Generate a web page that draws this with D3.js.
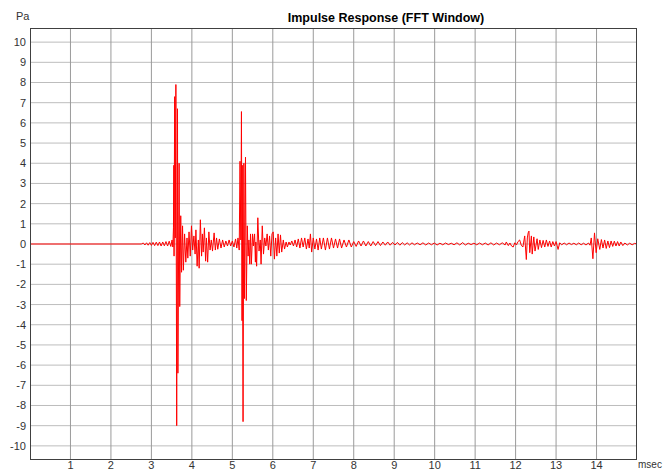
<!DOCTYPE html>
<html>
<head>
<meta charset="utf-8">
<script src="https://cdn.jsdelivr.net/npm/d3@7"></script>
<style>
    body { margin: 0; background: #fff; }
    svg { display: block; font-family: Arial, "Liberation Sans", sans-serif; }
    .ticklabel { font-size: 11px; fill: #333; }
    .title { font-size: 12.5px; font-weight: bold; fill: #000; }
</style>
</head>
<body>
<div id="chart"></div>
<script>
// tick labels
var msTicks = [1, 2, 3, 4, 5, 6, 7, 8, 9, 10, 11, 12, 13, 14];
var paTicks = [10, 9, 8, 7, 6, 5, 4, 3, 2, 1, 0, -1, -2, -3, -4, -5, -6, -7, -8, -9, -10];

// impulse response as [msec, Pa] turning points
var preRoll = [
    [0, 0], [2.75, 0], [2.8, 0.05], [2.84, -0.05], [2.88, 0.06], [2.92, -0.06], [2.96, 0.07],
    [3.0, -0.07], [3.04, 0.08], [3.08, -0.08], [3.12, 0.09], [3.16, -0.08], [3.2, 0.1],
    [3.24, -0.1], [3.28, 0.1], [3.32, -0.09], [3.36, 0.12], [3.4, -0.1], [3.44, 0.14],
    [3.48, -0.12], [3.51, 0.2], [3.53, -0.15]
];

var burst1 = [
    [3.545, 0.8], [3.555, 3.9], [3.56, -0.6], [3.575, 7.3], [3.59, 0.3], [3.605, 7.9],
    [3.625, -9.0], [3.645, 6.7], [3.655, -6.4], [3.685, 4.0], [3.70, -3.1], [3.725, 1.4],
    [3.745, -1.4], [3.77, 0.9], [3.79, -1.3], [3.82, 0.5], [3.85, -0.9], [3.88, 0.3],
    [3.90, -0.7], [3.93, 0.6], [3.96, -0.6], [3.99, 0.9], [4.02, -0.3], [4.05, 0.4],
    [4.08, -0.5], [4.10, 0.7], [4.13, -1.1], [4.16, 0.2], [4.18, -1.2], [4.21, 1.2],
    [4.24, -0.6], [4.26, 0.5], [4.28, -0.4], [4.31, 0.8], [4.34, -0.85], [4.36, 0.3],
    [4.39, -0.9], [4.42, 0.6], [4.45, -0.3], [4.48, 0.2], [4.51, -0.35], [4.55, 0.55],
    [4.58, -0.3], [4.61, 0.3], [4.64, -0.26], [4.68, 0.25], [4.72, -0.2], [4.76, 0.2],
    [4.80, -0.15], [4.84, 0.15], [4.88, -0.1], [4.92, 0.2], [4.96, -0.1], [5.00, 0.15],
    [5.04, -0.15], [5.08, 0.25], [5.11, -0.2], [5.14, 0.3], [5.17, -0.3]
];

var burst2 = [
    [5.19, 4.1], [5.21, 0.2], [5.225, 6.56], [5.24, -3.8], [5.245, 3.9], [5.265, -8.8],
    [5.285, 4.0], [5.30, -2.7], [5.325, 4.3], [5.345, -2.8], [5.37, 0.9], [5.39, -0.6],
    [5.41, 0.2], [5.43, -1.0], [5.45, 0.5], [5.47, -1.0], [5.50, 0.5], [5.52, -0.1],
    [5.55, 0.5], [5.57, -0.9], [5.58, 0.1], [5.60, -1.1], [5.63, 1.3], [5.66, -0.35],
    [5.69, 0.2], [5.71, -1.0], [5.74, 0.9], [5.77, -0.5], [5.80, 0.3], [5.83, -0.1],
    [5.86, 0.5], [5.89, -0.3], [5.92, 0.4], [5.95, -0.6], [5.98, 0.5]
];

var decay = [
    [6.01, 0.6], [6.04, -0.75], [6.07, 0.3], [6.10, -0.6], [6.13, 0.5], [6.16, -0.45],
    [6.19, 0.45], [6.22, -0.4], [6.26, 0.2], [6.29, -0.25], [6.33, 0.1], [6.36, -0.15],
    [6.40, 0.1], [6.43, -0.05], [6.47, 0.15], [6.51, -0.1], [6.55, 0.2], [6.59, -0.15],
    [6.63, 0.25], [6.67, -0.2], [6.71, 0.3], [6.75, -0.15], [6.79, 0.3], [6.83, -0.25],
    [6.87, 0.25], [6.90, -0.2], [6.93, 0.5], [6.96, -0.4], [7.00, 0.3], [7.04, -0.25],
    [7.08, 0.25], [7.12, -0.3], [7.16, 0.3], [7.20, -0.25], [7.25, 0.3], [7.30, -0.3],
    [7.35, 0.3], [7.40, -0.25], [7.45, 0.3], [7.50, -0.2], [7.55, 0.25], [7.60, -0.2],
    [7.65, 0.25], [7.70, -0.2], [7.76, 0.2], [7.82, -0.15], [7.88, 0.2], [7.94, -0.15],
    [8.00, 0.12], [8.06, -0.12], [8.12, 0.15], [8.18, -0.1], [8.24, 0.15], [8.30, -0.1],
    [8.36, 0.12], [8.42, -0.1], [8.48, 0.12], [8.54, -0.08], [8.60, 0.12], [8.66, -0.08],
    [8.72, 0.1], [8.78, -0.06], [8.84, 0.1], [8.90, -0.06], [8.96, 0.08], [9.02, -0.05],
    [9.08, 0.08], [9.14, -0.06], [9.20, 0.07], [9.26, -0.05], [9.32, 0.06], [9.38, -0.05],
    [9.44, 0.06], [9.50, -0.04], [9.57, 0.05], [9.64, -0.04], [9.71, 0.06], [9.78, -0.05],
    [9.85, 0.05], [9.92, -0.04], [9.99, 0.05], [10.06, -0.05], [10.13, 0.04], [10.20, -0.04],
    [10.27, 0.05], [10.34, -0.03], [10.41, 0.04], [10.48, -0.04], [10.55, 0.06], [10.62, -0.05],
    [10.69, 0.07], [10.76, -0.05], [10.83, 0.04], [10.90, -0.03], [10.97, 0.04], [11.04, -0.04],
    [11.11, 0.05], [11.18, -0.04], [11.25, 0.05], [11.32, -0.05], [11.39, 0.06], [11.46, -0.05],
    [11.53, 0.05], [11.60, -0.04], [11.67, 0.06], [11.74, -0.05]
];

var reflection1 = [
    [11.77, 0.1], [11.82, -0.08], [11.86, 0.05], [11.90, -0.1], [11.94, -0.15], [11.98, 0.06],
    [12.02, -0.05], [12.06, 0.12], [12.10, 0.2], [12.14, -0.06], [12.18, -0.15], [12.225, 0.4],
    [12.265, -0.77], [12.29, 0.3], [12.31, 0.55], [12.33, 0.64], [12.35, -0.43], [12.39, 0.4],
    [12.41, -0.5], [12.45, 0.35], [12.48, -0.35], [12.53, 0.26], [12.56, -0.27], [12.60, 0.2],
    [12.64, -0.18], [12.68, 0.18], [12.72, -0.15], [12.76, 0.2], [12.80, -0.12], [12.84, 0.15],
    [12.88, -0.15], [12.92, 0.12], [12.96, -0.1], [13.00, 0.12], [13.05, -0.27], [13.09, 0.06],
    [13.14, -0.04], [13.20, 0.05], [13.26, -0.04], [13.32, 0.05], [13.38, -0.03], [13.44, 0.04],
    [13.50, -0.04], [13.56, 0.05], [13.62, -0.04], [13.68, 0.04], [13.74, -0.05], [13.80, 0.05],
    [13.84, -0.06]
];

var reflection2 = [
    [13.87, 0.3], [13.91, -0.73], [13.95, 0.55], [13.99, -0.43], [14.03, 0.26], [14.08, -0.27],
    [14.12, 0.22], [14.16, -0.2], [14.20, 0.2], [14.24, -0.22], [14.28, 0.15], [14.32, -0.18],
    [14.36, 0.15], [14.40, -0.12], [14.44, 0.14], [14.48, -0.1], [14.52, 0.12], [14.56, -0.1],
    [14.60, 0.1], [14.65, -0.08], [14.70, 0.05], [14.76, -0.05], [14.82, 0.04], [14.88, -0.04],
    [14.94, 0.03], [15.0, 0]
];

var width = 668, height = 470;
var plot = {left: 30, right: 637, top: 28, bottom: 460};

var x = d3.scaleLinear().domain([0, 15]).range([plot.left, plot.right]);
var y = d3.scaleLinear().domain([-10.7, 10.7]).range([plot.bottom, plot.top]);

var svg = d3.select("#chart").append("svg")
    .attr("width", width)
    .attr("height", height);

// grid
var grid = svg.append("g").attr("class", "grid");
grid.selectAll("line.h")
    .data(paTicks)
    .enter().append("line")
    .attr("class", "h")
    .attr("x1", plot.left).attr("x2", plot.right)
    .attr("y1", function (d) { return y(d); })
    .attr("y2", function (d) { return y(d); })
    .attr("stroke", "#bdbdbd");

grid.selectAll("line.v")
    .data(msTicks)
    .enter().append("line")
    .attr("class", "v")
    .attr("y1", plot.top).attr("y2", plot.bottom)
    .attr("x1", function (d) { return x(d); })
    .attr("x2", function (d) { return x(d); })
    .attr("stroke", "#9a9a9a");

// trace
var samples = preRoll.concat(burst1, burst2, decay, reflection1, reflection2);
var line = d3.line()
    .x(function (d) { return x(d[0]); })
    .y(function (d) { return y(d[1]); });

svg.append("path")
    .datum(samples)
    .attr("d", line)
    .attr("fill", "none")
    .attr("stroke", "#ff0000")
    .attr("stroke-width", 1)
    .attr("stroke-linejoin", "round");

// frame
svg.append("rect")
    .attr("x", plot.left + 0.5).attr("y", plot.top + 0.5)
    .attr("width", plot.right - plot.left - 1)
    .attr("height", plot.bottom - plot.top - 1)
    .attr("fill", "none")
    .attr("stroke", "#404040");

// labels
svg.selectAll("text.ylab")
    .data(paTicks)
    .enter().append("text")
    .attr("class", "ticklabel ylab")
    .attr("x", 26)
    .attr("y", function (d) { return y(d); })
    .attr("dy", "0.36em")
    .attr("text-anchor", "end")
    .text(function (d) { return d; });

svg.selectAll("text.xlab")
    .data(msTicks)
    .enter().append("text")
    .attr("class", "ticklabel xlab")
    .attr("x", function (d) { return x(d); })
    .attr("y", 469)
    .attr("text-anchor", "middle")
    .text(function (d) { return d; });

svg.append("text").attr("class", "ticklabel").attr("x", 16).attr("y", 20).text("Pa");
svg.append("text").attr("class", "ticklabel").attr("x", 638).attr("y", 468)
    .style("font-size", "10px").text("msec");
svg.append("text").attr("class", "title").attr("x", 386).attr("y", 22)
    .attr("text-anchor", "middle").text("Impulse Response (FFT Window)");
</script>
</body>
</html>
